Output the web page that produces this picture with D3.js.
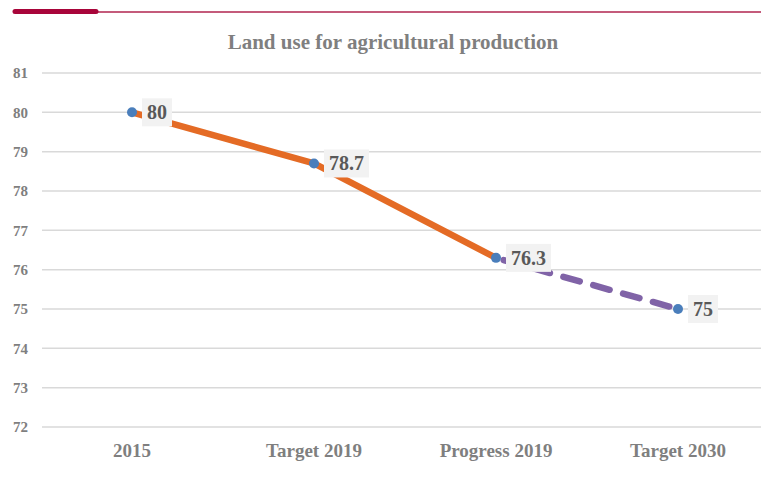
<!DOCTYPE html>
<html>
<head>
<meta charset="utf-8">
<script src="https://cdn.jsdelivr.net/npm/d3@7"></script>
<style>
    body { margin: 0; background: #fff; }
    svg { display: block; }
</style>
</head>
<body>
<script>
'use strict';

// chart values
const categories = ["2015", "Target 2019", "Progress 2019", "Target 2030"];
const values = [80, 78.7, 76.3, 75];
const yTicks = [72, 73, 74, 75, 76, 77, 78, 79, 80, 81];
const title = "Land use for agricultural production";

// which points belong to the solid (achieved) and dashed (projected) parts
const solidIdx = [0, 1, 2];
const dashedIdx = [2, 3];

(function () {
    const width = 761, height = 477;
    const serif = "'Liberation Serif', 'Times New Roman', serif";

    const svg = d3.select('body')
        .append('svg')
        .attr('width', width)
        .attr('height', height);

    // top decoration bar
    svg.append('line')
        .attr('x1', 97).attr('x2', width)
        .attr('y1', 12).attr('y2', 12)
        .attr('stroke', '#b0244f')
        .attr('stroke-width', 1.5);
    svg.append('line')
        .attr('x1', 15).attr('x2', 96)
        .attr('y1', 11.5).attr('y2', 11.5)
        .attr('stroke', '#a8053a')
        .attr('stroke-width', 5)
        .attr('stroke-linecap', 'round');

    // title
    svg.append('text')
        .attr('x', 393)
        .attr('y', 49)
        .attr('text-anchor', 'middle')
        .style('font-family', serif)
        .style('font-weight', 'bold')
        .style('font-size', '21px')
        .style('fill', '#7f7f7f')
        .text(title);

    // scales
    const xScale = d3.scaleBand()
        .domain(categories)
        .range([41, 769])
        .padding(0);
    const xMid = (c) => xScale(c) + xScale.bandwidth() / 2;

    const yScale = d3.scaleLinear()
        .domain([72, 81])
        .range([427, 73]);

    // gridlines
    svg.append('g')
        .selectAll('line')
        .data(yTicks)
        .enter()
        .append('line')
        .attr('x1', 42).attr('x2', width)
        .attr('y1', (d) => yScale(d)).attr('y2', (d) => yScale(d))
        .attr('stroke', '#d9d9d9')
        .attr('stroke-width', 1.5);

    // y axis labels
    const yAxis = d3.axisLeft(yScale).tickValues(yTicks).tickSize(0).tickPadding(0);
    const gy = svg.append('g')
        .attr('transform', 'translate(28, 0)')
        .call(yAxis);
    gy.select('.domain').remove();
    gy.selectAll('text')
        .style('font-family', serif)
        .style('font-weight', 'bold')
        .style('font-size', '15px')
        .style('fill', '#7f7f7f');

    // x axis labels
    const xAxis = d3.axisBottom(xScale).tickSize(0).tickPadding(0);
    const gx = svg.append('g')
        .attr('transform', 'translate(0, 443)')
        .call(xAxis);
    gx.select('.domain').remove();
    gx.selectAll('text')
        .style('font-family', serif)
        .style('font-weight', 'bold')
        .style('font-size', '19px')
        .style('fill', '#7f7f7f');

    const line = d3.line()
        .x((i) => xMid(categories[i]))
        .y((i) => yScale(values[i]));

    // achieved part
    svg.append('path')
        .datum(solidIdx)
        .attr('d', line)
        .attr('fill', 'none')
        .attr('stroke', '#e46b25')
        .attr('stroke-width', 6.5)
        .attr('stroke-linejoin', 'round');

    // projected part
    svg.append('path')
        .datum(dashedIdx)
        .attr('d', line)
        .attr('fill', 'none')
        .attr('stroke', '#8063a7')
        .attr('stroke-width', 6.5)
        .attr('stroke-dasharray', '17 14')
        .attr('stroke-dashoffset', -8)
        .attr('stroke-linecap', 'round');

    // markers
    svg.append('g')
        .selectAll('circle')
        .data(values)
        .enter()
        .append('circle')
        .attr('cx', (d, i) => xMid(categories[i]))
        .attr('cy', (d) => yScale(d))
        .attr('r', 5)
        .attr('fill', '#4a7ebb');

    // data labels with light background
    const labels = svg.append('g')
        .selectAll('g')
        .data(values)
        .enter()
        .append('g')
        .attr('transform', (d, i) => `translate(${xMid(categories[i]) + 10}, ${yScale(d)})`);

    labels.append('rect')
        .attr('fill', '#f2f2f2');

    labels.append('text')
        .attr('x', 5)
        .attr('y', 7)
        .style('font-family', serif)
        .style('font-weight', 'bold')
        .style('font-size', '20px')
        .style('fill', '#595959')
        .text((d) => d);

    labels.each(function () {
        const g = d3.select(this);
        const w = g.select('text').node().getComputedTextLength();
        g.select('rect')
            .attr('x', 0)
            .attr('y', -14)
            .attr('width', w + 10)
            .attr('height', 28);
    });
})();
</script>
</body>
</html>
